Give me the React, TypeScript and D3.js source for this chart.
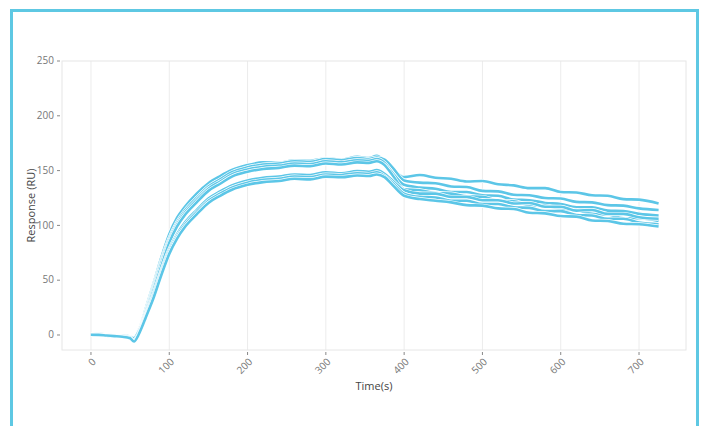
import React, { useRef, useEffect } from 'react';
import * as d3 from 'd3';

// sample times (s), shared by all sensorgram curves
const times = [0, 10, 20, 30, 40, 50, 55, 60, 65, 70, 80, 90, 100, 110, 120, 135, 150, 165, 180, 200, 220, 240, 260, 280, 300, 320, 340, 355, 365, 375, 385, 400, 420, 440, 460, 480, 500, 520, 540, 560, 580, 600, 620, 640, 660, 680, 700, 725];

// response (RU) per curve
const curve1 = [0.5, 1, 0.2, -0.5, -0.3, -1.5, -3, 3, 12, 24, 47, 71, 92, 107, 117, 129, 138.5, 145, 150.5, 155, 157.5, 157, 159.5, 159, 161, 160, 162.5, 161.5, 163.5, 159, 152, 144, 146, 143.5, 142.5, 140, 140.5, 137.5, 136.5, 134, 134, 130.5, 130, 127.5, 127, 124, 123.5, 120];
const curve2 = [0.2, 0.6, -0.2, -0.7, -1.2, -2, -4, 2, 11, 22, 45, 68, 88, 103, 113.5, 125, 135.5, 142, 148.5, 153, 155.5, 156.5, 158.5, 158, 160.5, 159.5, 161.5, 160.5, 162, 160, 153, 141, 139, 138.5, 135.5, 135, 131.5, 131, 128, 127.5, 125, 124.5, 121.5, 121, 118.5, 118, 115.5, 114];
const curve3 = [0, 0.4, -0.4, -1, -0.8, -2.2, -5, 1, 10, 21, 43, 66, 86, 101, 111.5, 123, 133.5, 140, 146.5, 151, 153.5, 154.5, 156.5, 156, 158.5, 157.5, 159.5, 159, 160.5, 157, 148, 137, 134.5, 133.5, 130.5, 130.5, 127.5, 127, 123.5, 123, 120.5, 119.5, 116.5, 116.5, 113.5, 113, 110.5, 109];
const curve4 = [0.3, -0.2, -0.5, -1.2, -1.5, -2.8, -4, 1, 9, 19, 41, 63, 84, 99, 109.5, 121, 131.5, 138, 144.5, 149, 151.5, 152.5, 154.5, 154, 156.5, 155.5, 157.5, 157, 158.5, 155, 146, 133, 132, 129.5, 129, 126.5, 126, 122.5, 122, 118.5, 118, 115, 114, 110.5, 110, 106.5, 106.5, 104];
const curve5 = [0.5, 0.3, -0.3, -0.8, -1.3, -2.2, -3, 2, 9, 18, 38, 59, 78, 92, 102.5, 114, 124.5, 131, 136.5, 141, 143.5, 144.5, 146.5, 146, 148.5, 147.5, 149.5, 149, 150.5, 147, 141, 132, 129, 129, 126, 126, 123, 123, 120, 120.5, 117, 117, 113.5, 114, 110.5, 110.5, 107.5, 106];
const curve6 = [0, -0.1, -0.6, -1.3, -1.5, -2.5, -5, 0, 8, 17, 36, 57, 76, 90, 100.5, 112, 122.5, 129, 134.5, 139, 141.5, 142.5, 144.5, 144, 146.5, 146, 147.5, 147, 148.5, 145, 139, 129, 126, 125.5, 122.5, 122.5, 119.5, 119.5, 116.5, 116, 113, 113, 109.5, 109, 106, 106, 102.5, 101];
const curve7 = [0.2, 0.1, -0.5, -1, -1.6, -3, -6, -1, 7, 16, 34, 55, 74, 88, 98.5, 110, 120.5, 127, 132.5, 137, 139.5, 140.5, 142.5, 142, 144.5, 144, 145.5, 145, 146.5, 144, 137, 127, 124, 122.5, 121, 118.5, 118, 115.5, 115, 111.5, 111, 108.5, 108, 104.5, 104, 101.5, 101, 99];

const curves = [curve1, curve2, curve3, curve4, curve5, curve6, curve7];
const xTicks = [0, 100, 200, 300, 400, 500, 600, 700];
const yTicks = [0, 50, 100, 150, 200, 250];

export default function App() {
  const ref = useRef<SVGSVGElement>(null);

  useEffect(() => {
    const width = 704;
    const height = 426;
    const panel = { left: 62, right: 686, top: 61, bottom: 350 };
    const lineColor = '#5cc6e7';

    const svg = d3.select(ref.current);
    svg.selectAll('*').remove();

    // outer card border
    svg.append('rect')
      .attr('x', 11.5).attr('y', 10.5)
      .attr('width', 686).attr('height', 440)
      .attr('fill', '#fff')
      .attr('stroke', '#5ec8e3')
      .attr('stroke-width', 3);

    const x = d3.scaleLinear().domain([-37, 760]).range([panel.left, panel.right]);
    const y = d3.scaleLinear().domain([-13.7, 250]).range([panel.bottom, panel.top]);

    const g = svg.append('g').attr('font-family', '"Open Sans", sans-serif');

    // vertical grid
    g.append('g')
      .selectAll('line')
      .data(xTicks)
      .enter()
      .append('line')
      .attr('x1', d => x(d)).attr('x2', d => x(d))
      .attr('y1', panel.top).attr('y2', panel.bottom)
      .attr('stroke', '#ececec');

    g.append('rect')
      .attr('x', panel.left).attr('y', panel.top)
      .attr('width', panel.right - panel.left)
      .attr('height', panel.bottom - panel.top)
      .attr('fill', 'none')
      .attr('stroke', '#e6e6e6');

    // y axis
    const yAxis = g.append('g');
    yAxis.selectAll('line')
      .data(yTicks)
      .enter()
      .append('line')
      .attr('x1', panel.left - 5).attr('x2', panel.left - 2)
      .attr('y1', d => y(d)).attr('y2', d => y(d))
      .attr('stroke', '#888');
    yAxis.selectAll('text')
      .data(yTicks)
      .enter()
      .append('text')
      .attr('x', panel.left - 8)
      .attr('y', d => y(d))
      .attr('dy', '0.33em')
      .attr('text-anchor', 'end')
      .attr('font-size', 10)
      .attr('fill', '#777')
      .text(d => d);

    // x axis
    const xAxis = g.append('g');
    xAxis.selectAll('line')
      .data(xTicks)
      .enter()
      .append('line')
      .attr('x1', d => x(d)).attr('x2', d => x(d))
      .attr('y1', panel.bottom + 2).attr('y2', panel.bottom + 5)
      .attr('stroke', '#888');
    xAxis.selectAll('text')
      .data(xTicks)
      .enter()
      .append('text')
      .attr('transform', d => `translate(${x(d) + 3},${panel.bottom + 10}) rotate(-45)`)
      .attr('dy', '0.35em')
      .attr('text-anchor', 'end')
      .attr('font-size', 10)
      .attr('fill', '#777')
      .text(d => d);

    g.append('text')
      .attr('x', (panel.left + panel.right) / 2)
      .attr('y', 390)
      .attr('text-anchor', 'middle')
      .attr('font-size', 11)
      .attr('fill', '#444')
      .text('Time(s)');

    g.append('text')
      .attr('transform', `translate(35,${(panel.top + panel.bottom) / 2}) rotate(-90)`)
      .attr('text-anchor', 'middle')
      .attr('font-size', 11)
      .attr('fill', '#444')
      .text('Response (RU)');

    // curves: white halo under each line keeps overlapping traces apart
    const line = d3.line<number>()
      .x((d, i) => x(times[i]))
      .y(d => y(d))
      .curve(d3.curveMonotoneX);

    const lines = g.append('g').attr('fill', 'none').attr('stroke-linejoin', 'round');
    curves.forEach(c => {
      lines.append('path')
        .attr('d', line(c))
        .attr('stroke', '#fff')
        .attr('stroke-width', 4);
      lines.append('path')
        .attr('d', line(c))
        .attr('stroke', lineColor)
        .attr('stroke-width', 2.6);
    });

    svg.attr('width', width).attr('height', height);
  }, []);

  return (
    <div>
      <svg ref={ref} width={704} height={426} style={{ position: 'absolute', left: 0, top: 0 }} />
    </div>
  );
}
